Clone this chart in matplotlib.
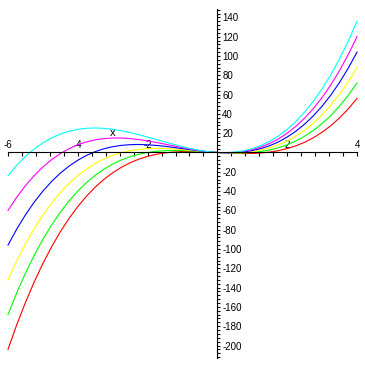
import matplotlib
matplotlib.use("Agg")
import matplotlib.pyplot as plt

# valeurs lues sur le graphique, pas de 0.25
xs = [-6, -5.75, -5.5, -5.25, -5, -4.75, -4.5, -4.25, -4, -3.75, -3.5, -3.25,
      -3, -2.75, -2.5, -2.25, -2, -1.75, -1.5, -1.25, -1, -0.75, -0.5, -0.25,
      0, 0.25, 0.5, 0.75, 1, 1.25, 1.5, 1.75, 2, 2.25, 2.5, 2.75, 3, 3.25,
      3.5, 3.75, 4]
rouge = [-204, -178.6, -155.4, -134.2, -115, -97.7, -82.1, -68.3, -56, -45.2,
         -35.9, -27.8, -21, -15.3, -10.6, -6.9, -4, -1.9, -0.4, 0.5, 1, 1.1,
         0.9, 0.5, 0, -0.5, -0.9, -1.1, -1, -0.5, 0.4, 1.9, 4, 6.9, 10.6, 15.3,
         21, 27.8, 35.9, 45.2, 56]
vert = [-168, -145.5, -125.1, -106.6, -90, -75.1, -61.9, -50.2, -40, -31.2,
        -23.6, -17.3, -12, -7.7, -4.4, -1.8, 0, 1.2, 1.9, 2.1, 2, 1.6, 1.1,
        0.5, 0, -0.4, -0.6, -0.5, 0, 1.0, 2.6, 4.9, 8, 12.0, 16.9, 22.9, 30,
        38.4, 48.1, 59.3, 72]
jaune = [-132, -112.5, -94.9, -79.1, -65, -52.5, -41.6, -32.1, -24, -17.1,
         -11.4, -6.7, -3, -0.2, 1.9, 3.2, 4, 4.3, 4.1, 3.7, 3, 2.2, 1.4, 0.6,
         0, -0.4, -0.4, 0.0, 1, 2.6, 4.9, 8.0, 12, 17.0, 23.1, 30.4, 39, 49.0,
         60.4, 73.4, 88]
bleu = [-96, -79.4, -64.6, -51.5, -40, -30.0, -21.4, -14.1, -8, -3.0, 0.9,
        3.9, 6, 7.4, 8.1, 8.3, 8, 7.3, 6.4, 5.2, 4, 2.8, 1.6, 0.7, 0, -0.3,
        -0.1, 0.6, 2, 4.1, 7.1, 11.0, 16, 22.1, 29.4, 38.0, 48, 59.5, 72.6,
        87.4, 104]
magenta = [-60, -46.4, -34.4, -24.0, -15, -7.4, -1.1, 4.0, 8, 11.0, 13.1,
           14.4, 15, 15.0, 14.4, 13.4, 12, 10.4, 8.6, 6.8, 5, 3.3, 1.9, 0.7,
           0, -0.2, 0.1, 1.2, 3, 5.7, 9.4, 14.1, 20, 27.1, 35.6, 45.5, 57,
           70.1, 84.9, 101.5, 120]
cyan = [-24, -13.3, -4.1, 3.6, 10, 15.1, 19.1, 22.0, 24, 25.1, 25.4, 25.0,
        24, 22.5, 20.6, 18.4, 16, 13.5, 10.9, 8.4, 6, 3.9, 2.1, 0.8, 0, -0.2,
        0.4, 1.7, 4, 7.3, 11.6, 17.2, 24, 32.2, 41.9, 53.1, 66, 80.6, 97.1,
        115.5, 136]

courbes = [rouge, vert, jaune, bleu, magenta, cyan]
couleurs = ["red", "lime", "yellow", "blue", "magenta", "cyan"]

xticks = [-6, -4, -2, 2, 4]
yticks = [140, 120, 100, 80, 60, 40, 20, -20, -40, -60, -80, -100,
          -120, -140, -160, -180, -200]

plt.rcParams["font.family"] = ["Liberation Sans", "DejaVu Sans"]

fig = plt.figure(figsize=(3.65, 3.65), dpi=100)
ax = fig.add_axes([0, 0, 1, 1])

for ys, c in zip(courbes, couleurs):
    ax.plot(xs, ys, color=c, lw=0.8)

ax.set_xlim(-6.229, 4.229)
ax.set_ylim(-220.2, 158.0)
ax.set_axisbelow(True)

ax.spines["left"].set_visible(False)
ax.spines["bottom"].set_visible(False)
ax.spines["top"].set_position(("data", 0))
ax.spines["right"].set_position(("data", 0))
ax.spines["top"].set_bounds(-6, 4)
ax.spines["right"].set_bounds(-213, 149)
for s in ["top", "right"]:
    ax.spines[s].set_linewidth(0.8)

ax.xaxis.tick_top()
ax.yaxis.tick_right()
ax.set_xticks(xticks)
ax.set_xticklabels([str(t) for t in xticks])
ax.set_xticks([-6 + 0.4 * i for i in range(26) if i % 5 != 0], minor=True)
ax.set_yticks(yticks)
ax.set_yticklabels([str(t) for t in yticks])
ax.set_yticks([-212 + 4 * i for i in range(91) if (-212 + 4 * i) % 20 != 0],
              minor=True)

ax.tick_params(axis="x", which="both", direction="in", length=3, width=0.8,
               pad=2, labelsize=7)
ax.tick_params(axis="y", which="major", direction="out", length=2.5, width=0.8,
               pad=1, labelsize=7)
ax.tick_params(axis="y", which="minor", direction="out", length=2, width=0.8)

ax.text(-3, 20, "x", ha="center", va="center", fontsize=8)

fig.savefig("out.png", dpi=100)
